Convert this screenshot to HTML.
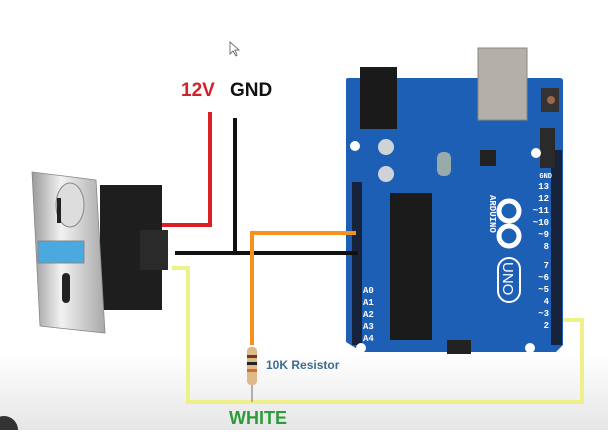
<!DOCTYPE html>
<html><head><style>
html,body{margin:0;padding:0;background:#fff;}
body{width:608px;height:430px;overflow:hidden;position:relative;font-family:"Liberation Sans",sans-serif;}
</style></head><body>
<svg width="608" height="430" viewBox="0 0 608 430" xmlns="http://www.w3.org/2000/svg">
<defs>
<linearGradient id="bg" x1="0" y1="0" x2="0" y2="1">
<stop offset="0" stop-color="#ffffff"/><stop offset="0.82" stop-color="#ffffff"/><stop offset="1" stop-color="#e6e6e6"/>
</linearGradient>
<linearGradient id="plate" x1="0" y1="0" x2="1" y2="0">
<stop offset="0" stop-color="#9a9a9a"/><stop offset="0.4" stop-color="#f2f2f2"/><stop offset="1" stop-color="#a8a8a8"/>
</linearGradient>
</defs>
<rect width="608" height="430" fill="url(#bg)"/>
<!-- cursor -->
<path d="M230 42 L230 54 L233 51 L236 56 L237 55 L235 50 L239 50 Z" fill="#fff" stroke="#555" stroke-width="0.8"/>
<!-- labels -->
<text x="181" y="96" font-size="19" font-weight="bold" fill="#d0222a">12V</text>
<text x="230" y="96" font-size="19" font-weight="bold" fill="#111">GND</text>
<!-- Arduino board -->
<path d="M346 80 Q346 78 348 78 L560 78 Q563 78 563 81 L563 345 L556 352 L362 352 L346 342 Z" fill="#1d5fb5"/>
<rect x="478" y="48" width="49" height="72" fill="#b3b0aa" stroke="#8a8780"/>
<rect x="360" y="67" width="37" height="62" fill="#1a1a1a"/>
<rect x="390" y="193" width="42" height="147" fill="#1b1b1b"/>
<rect x="352" y="182" width="10" height="163" fill="#16233a"/>
<rect x="551" y="150" width="11" height="195" fill="#16233a"/>
<circle cx="386" cy="147" r="8" fill="#cfd3d8"/><circle cx="386" cy="174" r="8" fill="#cfd3d8"/>
<rect x="480" y="150" width="16" height="16" fill="#222"/>
<rect x="540" y="128" width="15" height="40" fill="#2a2a2a"/>
<rect x="541" y="88" width="18" height="24" fill="#333"/><circle cx="551" cy="100" r="4" fill="#a0664a"/>
<rect x="437" y="152" width="14" height="24" rx="6" fill="#9aa"/>
<rect x="447" y="340" width="24" height="14" fill="#222"/>
<circle cx="355" cy="146" r="5" fill="#fff"/><circle cx="536" cy="153" r="5" fill="#fff"/>
<circle cx="361" cy="348" r="5" fill="#fff"/><circle cx="530" cy="348" r="5" fill="#fff"/>
<g fill="#fff" font-size="9" font-family="Liberation Mono,monospace" font-weight="bold">
<text x="490" y="195" transform="rotate(90 490 195)">ARDUINO</text>
<text x="552" y="178" font-size="7" text-anchor="end">GND</text>
<text x="549" y="189" text-anchor="end">13</text><text x="549" y="201" text-anchor="end">12</text>
<text x="549" y="213" text-anchor="end">~11</text><text x="549" y="225" text-anchor="end">~10</text>
<text x="549" y="237" text-anchor="end">~9</text><text x="549" y="249" text-anchor="end">8</text>
<text x="549" y="268" text-anchor="end">7</text><text x="549" y="280" text-anchor="end">~6</text>
<text x="549" y="292" text-anchor="end">~5</text><text x="549" y="304" text-anchor="end">4</text>
<text x="549" y="316" text-anchor="end">~3</text><text x="549" y="328" text-anchor="end">2</text>
<text x="363" y="293">A0</text><text x="363" y="305">A1</text><text x="363" y="317">A2</text>
<text x="363" y="329">A3</text><text x="363" y="341">A4</text>
</g>
<g fill="none" stroke="#fff" stroke-width="5">
<circle cx="509" cy="211" r="10"/><circle cx="509" cy="236" r="10"/>
</g>
<rect x="498" y="258" width="22" height="44" rx="11" fill="none" stroke="#fff" stroke-width="2"/>
<text x="503" y="262" font-size="15" fill="#fff" transform="rotate(90 503 262)">UNO</text>
<!-- coin acceptor -->
<rect x="100" y="185" width="62" height="125" fill="#1e1e1e"/>
<rect x="140" y="230" width="28" height="40" fill="#2a2a2a"/>
<path d="M32 172 L96 180 L105 333 L40 326 Z" fill="url(#plate)" stroke="#888" stroke-width="0.8"/>
<ellipse cx="70" cy="205" rx="14" ry="22" fill="#ddd" stroke="#888"/>
<rect x="57" y="198" width="4" height="25" fill="#222"/>
<rect x="38" y="241" width="46" height="22" fill="#4aa9df" stroke="#888"/>
<rect x="62" y="273" width="8" height="30" rx="4" fill="#222"/>
<!-- wires -->
<polyline points="162,225 210,225 210,112" fill="none" stroke="#dc1f26" stroke-width="4"/>
<line x1="235" y1="118" x2="235" y2="253" stroke="#111" stroke-width="4"/>
<line x1="175" y1="253" x2="358" y2="253" stroke="#111" stroke-width="4"/>
<polyline points="356,233 252,233 252,345" fill="none" stroke="#f7901e" stroke-width="4"/>
<polyline points="172,268 188,268 188,402 582,402 582,320 563,320" fill="none" stroke="#eef08a" stroke-width="4"/>
<!-- resistor -->
<line x1="252" y1="384" x2="252" y2="402" stroke="#999" stroke-width="1.5"/>
<rect x="247" y="347" width="10" height="38" rx="4" fill="#e0b98a"/>
<rect x="247" y="355" width="10" height="3" fill="#6b3b1e"/>
<rect x="247" y="362" width="10" height="3" fill="#222"/>
<rect x="247" y="369" width="10" height="3" fill="#d76a2a"/>
<text x="266" y="369" font-size="12" font-weight="bold" fill="#3b6e8e">10K Resistor</text>
<text x="229" y="424" font-size="18" font-weight="bold" fill="#2e9b3a">WHITE</text>
<circle cx="4" cy="430" r="14" fill="#333"/>
</svg>
</body></html>
